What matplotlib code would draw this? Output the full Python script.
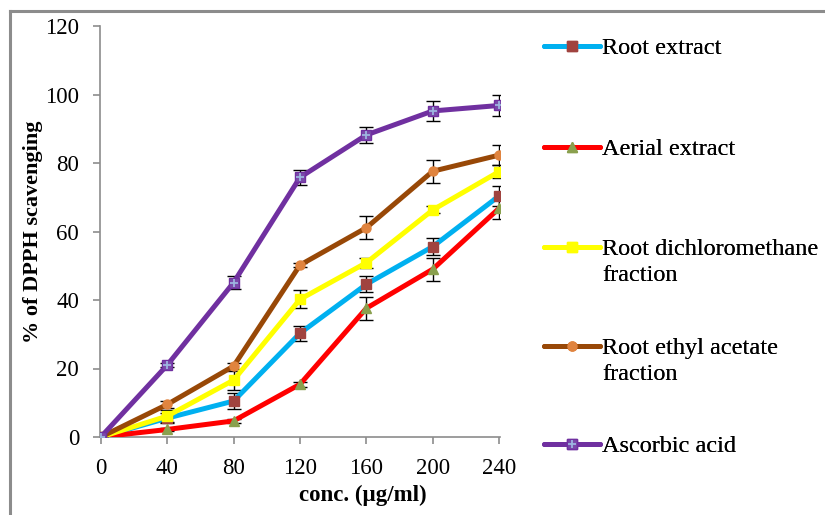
import matplotlib.pyplot as plt
from matplotlib.lines import Line2D

plt.rcParams['font.family'] = ['Liberation Serif', 'DejaVu Serif']

conc = [0, 40, 80, 120, 160, 200, 240]

root = [0, 5.5, 10.5, 30.3, 44.6, 55.6, 70.4]
root_err = [0, 1.5, 2.4, 2.2, 2.3, 2.6, 3.0]
aerial = [0, 2.2, 4.7, 15.4, 37.6, 49.0, 66.8]
aerial_err = [0, 0.5, 0.5, 0.7, 3.3, 3.4, 3.1]
dcm = [0, 6.1, 16.6, 40.2, 50.9, 66.3, 77.5]
dcm_err = [0, 1.8, 2.8, 2.6, 1.5, 1.0, 2.0]
ethyl = [0, 9.5, 20.7, 50.2, 61.1, 77.6, 82.3]
ethyl_err = [0, 1.0, 0.8, 0.5, 3.3, 3.3, 3.0]
ascorbic = [0, 21.0, 45.1, 75.8, 88.2, 95.2, 96.8]
ascorbic_err = [0, 0.6, 1.9, 2.2, 2.25, 2.9, 3.0]

labels = ["Root extract", "Aerial extract", "Root dichloromethane\nfraction",
          "Root ethyl acetate\nfraction", "Ascorbic acid"]

fig = plt.figure(figsize=(8.25, 5.15), dpi=100)
ax = fig.add_axes([100 / 825, 1 - 437 / 515, 400 / 825, 411 / 515])

lw = 3.6
ms = 6.5
series = [
    (root, root_err, '#00B0F0', 's', '#A0433F', '#A0433F'),
    (aerial, aerial_err, '#FF0000', '^', '#8AA04E', '#8AA04E'),
    (dcm, dcm_err, '#FFFF00', 's', '#FFFF00', '#FFFF00'),
    (ethyl, ethyl_err, '#984807', 'o', '#E0843F', '#E0843F'),
    (ascorbic, ascorbic_err, '#7030A0', 's', '#7A4AAA', '#7030A0'),
]

handles = []
for vals, err, col, mk, mfc, mec in series:
    ax.errorbar(conc, vals, yerr=err, fmt='none', ecolor='black',
                elinewidth=1.0, capsize=5, capthick=1.0, zorder=2)
    ln, = ax.plot(conc, vals, color=col, lw=lw, marker=mk, markersize=ms,
                  markerfacecolor=mfc, markeredgecolor=mec, zorder=3,
                  solid_capstyle='round')
    handles.append(ln)

# light blue cross inside the ascorbic acid markers
plus, = ax.plot(conc, ascorbic, linestyle='none', marker='+', markersize=6,
                markeredgewidth=1.3, color='#9DB5E0', zorder=4)
handles[-1] = (handles[-1], plus)

ax.set_xticks(conc)
ax.set_yticks(range(0, 121, 20))
ax.set_xlim(-0.5, 240.5)
ax.set_ylim(0, 120)
for s in ['top', 'right']:
    ax.spines[s].set_visible(False)
for s in ['left', 'bottom']:
    ax.spines[s].set_color('#8C8C8C')
    ax.spines[s].set_linewidth(1.2)
ax.tick_params(axis='both', colors='#8C8C8C', labelcolor='black',
               labelsize=16.5, length=5, width=1.2, direction='out')
ax.tick_params(axis='y', pad=10)
ax.tick_params(axis='x', pad=10)

ax.set_xlabel("conc. (µg/ml)", fontsize=16.5, fontweight='bold')
ax.set_ylabel("% of DPPH scavenging", fontsize=16, fontweight='bold')
ax.xaxis.set_label_coords(0.6575, -0.141)
ax.yaxis.set_label_coords(-0.1675, 0.5)
ax.xaxis.label.set_va('center')
ax.yaxis.label.set_va('center')

# legend entries, one per series; second text line of long labels sits
# under the first with no handle, like Excel does it
legend_y = [48, 149, 248, 347, 446]
blank = Line2D([], [], alpha=0)
for h, lab, yy in zip(handles, labels, legend_y):
    parts = lab.split("\n")
    hs = [h] + [blank] * (len(parts) - 1)
    leg = fig.legend(hs, parts, loc='center left',
                     bbox_to_anchor=(544 / 825, 1 - (yy + 14 * (len(parts) - 1)) / 515),
                     frameon=False, fontsize=17.5, handlelength=2.3,
                     handletextpad=0.1, borderpad=0, borderaxespad=0,
                     labelspacing=0.15)
    fig.add_artist(leg)

# grey frame around the figure (left and top edges visible)
fig.add_artist(Line2D([10 / 825, 10 / 825], [0, 1 - 11 / 515],
                      color='#8C8C8C', lw=2.2, transform=fig.transFigure))
fig.add_artist(Line2D([10 / 825, 1], [1 - 11 / 515, 1 - 11 / 515],
                      color='#8C8C8C', lw=2.2, transform=fig.transFigure))

fig.savefig("out.png", dpi=100)
